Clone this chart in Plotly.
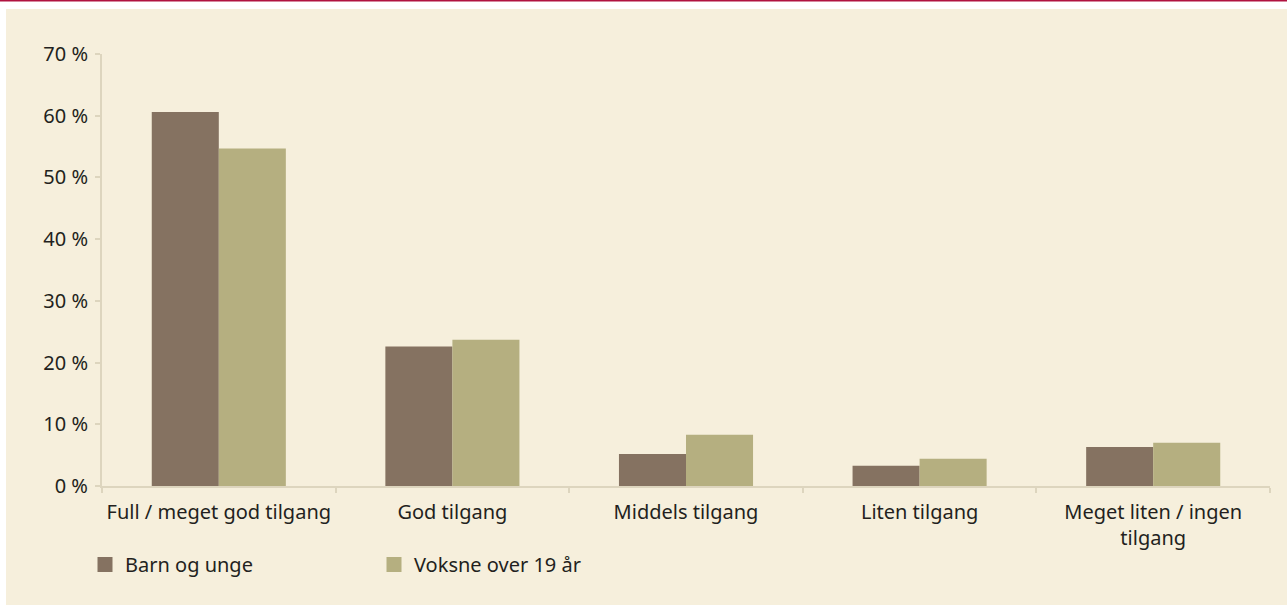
import plotly.graph_objects as go

categories = ["Full / meget god tilgang", "God tilgang", "Middels tilgang",
              "Liten tilgang", "Meget liten / ingen<br>tilgang"]
barn_og_unge = [60.6, 22.6, 5.2, 3.3, 6.3]
voksne = [54.7, 23.7, 8.3, 4.4, 7.0]
series_names = ["Barn og unge", "Voksne over 19 år"]

brown = "#857261"
olive = "#B5AF80"
cream = "#F6EFDC"
axis_col = "#DDD5BE"
text_col = "#231F20"

W, H = 1287, 605
L, R, T, B = 102, 17, 54, 119
pw, ph = W - L - R, H - T - B

def px(x):
    return (x - L) / pw

def py(y):
    return (H - B - y) / ph

fig = go.Figure()
for name, vals, col in [(series_names[0], barn_og_unge, brown),
                        (series_names[1], voksne, olive)]:
    fig.add_trace(go.Bar(x=categories, y=vals, name=name, marker_color=col,
                         marker_line_width=0, showlegend=False))
    # legend swatch (larger square than default bar swatch)
    fig.add_trace(go.Scatter(x=[None], y=[None], mode="markers", name=name,
                             marker=dict(symbol="square", size=15, color=col)))

shapes = [
    dict(type="rect", xref="paper", yref="paper", x0=px(0), x1=px(W), y0=py(9), y1=py(0),
         fillcolor="white", line_width=0, layer="below"),
    dict(type="rect", xref="paper", yref="paper", x0=px(0), x1=px(6), y0=py(H), y1=py(0),
         fillcolor="white", line_width=0, layer="below"),
    dict(type="rect", xref="paper", yref="paper", x0=px(0), x1=px(W), y0=py(1.5), y1=py(0),
         fillcolor="#B0123F", line_width=0, layer="below"),
]

fs = 20

fig.update_layout(
    width=W, height=H,
    margin=dict(l=L, r=R, t=T, b=B, autoexpand=False),
    paper_bgcolor=cream, plot_bgcolor=cream,
    font=dict(family="Noto Sans", size=fs, color=text_col),
    barmode="group", bargap=0.426, bargroupgap=0,
    shapes=shapes,
    showlegend=True,
    legend=dict(orientation="h", x=px(85), y=py(545), xanchor="left", yanchor="top",
                entrywidth=244, entrywidthmode="pixels", bgcolor="rgba(0,0,0,0)",
                font=dict(size=fs, color=text_col)),
    xaxis=dict(showline=True, linecolor=axis_col, linewidth=2, ticks="outside",
               tickson="boundaries", ticklen=5, tickcolor=axis_col, tickwidth=2,
               ticklabelstandoff=7, tickangle=0, automargin=False,
               showgrid=False, fixedrange=True),
    yaxis=dict(range=[0, 70], dtick=10, ticksuffix=" %", showline=True,
               linecolor=axis_col, linewidth=2, ticks="outside", ticklen=5,
               tickcolor=axis_col, tickwidth=2, ticklabelstandoff=3, automargin=False,
               showgrid=False, zeroline=False, fixedrange=True),
)

fig.write_html("out.html", config={"displayModeBar": False},
               post_script="document.body.style.margin='0';")
